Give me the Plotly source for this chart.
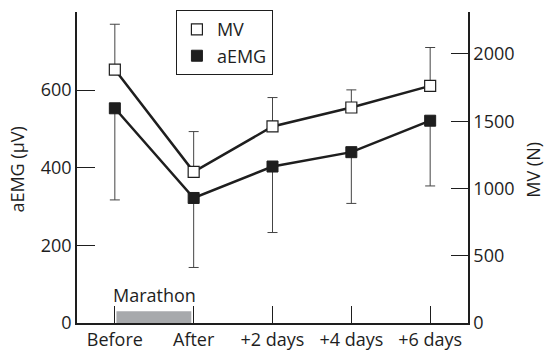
import plotly.graph_objects as go

days = ["Before", "After", "+2 days", "+4 days", "+6 days"]
mv = [1884, 1124, 1461, 1602, 1763]
mv_err_up = [337, 299, 215, 131, 285]
aemg = [553, 322, 403, 440, 521]
aemg_err_down = [236, 179, 170, 132, 168]
left_ticks = [0, 200, 400, 600]
right_ticks = [0, 500, 1000, 1500, 2000]

FONT = "Open Sans"
INK = "#1e1e1e"

fig = go.Figure()
fig.add_trace(go.Scatter(
    x=days, y=aemg, name="aEMG", mode="lines+markers", yaxis="y", showlegend=False,
    line=dict(color=INK, width=2.5),
    marker=dict(symbol="square", size=11, color=INK, line=dict(color=INK, width=1)),
    error_y=dict(type="data", symmetric=False, array=[0]*5, arrayminus=aemg_err_down,
                 color="#444", thickness=1, width=5),
))
fig.add_trace(go.Scatter(
    x=days, y=mv, name="MV", mode="lines+markers", yaxis="y2", showlegend=False,
    line=dict(color=INK, width=2.5),
    marker=dict(symbol="square", size=11, color="white", line=dict(color=INK, width=1.2)),
    error_y=dict(type="data", symmetric=False, array=mv_err_up, arrayminus=[0]*5,
                 color="#444", thickness=1, width=5),
))
# legend entries (markers only)
fig.add_trace(go.Scatter(x=[None], y=[None], name="MV", mode="markers",
                         marker=dict(symbol="square", size=11, color="white",
                                     line=dict(color=INK, width=1.2))))
fig.add_trace(go.Scatter(x=[None], y=[None], name="aEMG", mode="markers",
                         marker=dict(symbol="square", size=11, color=INK,
                                     line=dict(color=INK, width=1))))

fig.add_shape(type="rect", xref="x", yref="y", x0=0.02, x1=0.97, y0=0, y1=30,
              fillcolor="#a7a9ac", line=dict(width=0), layer="below")
fig.add_annotation(x=0.5, y=73, xref="x", yref="y", text="Marathon", showarrow=False,
                   font=dict(family=FONT, size=18, color=INK), yanchor="middle")

fig.add_annotation(x=-0.154, y=0.4925, xref="paper", yref="paper", text="aEMG (μV)",
                   textangle=-90, showarrow=False, xanchor="center", yanchor="middle",
                   borderpad=0, font=dict(family=FONT, size=18, color=INK))
fig.add_annotation(x=1.166, y=0.4925, xref="paper", yref="paper", text="MV (N)",
                   textangle=-90, showarrow=False, xanchor="center", yanchor="middle",
                   borderpad=0, font=dict(family=FONT, size=18, color=INK))

fig.update_layout(
    width=546, height=350,
    margin=dict(l=77, r=78, t=12, b=27, autoexpand=False),
    paper_bgcolor="white", plot_bgcolor="white",
    font=dict(family=FONT, size=18, color=INK),
    showlegend=True,
    legend=dict(x=0.253, y=1.006, xanchor="left", yanchor="top",
                bordercolor=INK, borderwidth=1, bgcolor="white",
                font=dict(size=18), itemwidth=30, tracegroupgap=0),
    xaxis=dict(type="category", range=[-0.48, 4.48], showgrid=False, zeroline=False,
               showline=True, linecolor=INK, linewidth=1.5, automargin=False,
               ticks="inside", ticklen=17, tickwidth=1, tickcolor=INK),
    yaxis=dict(range=[0, 801], tickvals=left_ticks, showgrid=False, zeroline=False,
               showline=True, linecolor=INK, linewidth=1.5, automargin=False,
               ticks="inside", ticklen=18, tickwidth=1, tickcolor=INK),
    yaxis2=dict(range=[0, 2312], tickvals=right_ticks, overlaying="y", side="right",
                showgrid=False, zeroline=False, showline=True, linecolor=INK, linewidth=1.5,
                automargin=False,
                ticks="inside", ticklen=17, tickwidth=1, tickcolor=INK),
)

fig.write_html(
    "out.html",
    config={"displayModeBar": False},
    post_script="document.body.style.margin='0';document.body.style.overflow='hidden';",
)
